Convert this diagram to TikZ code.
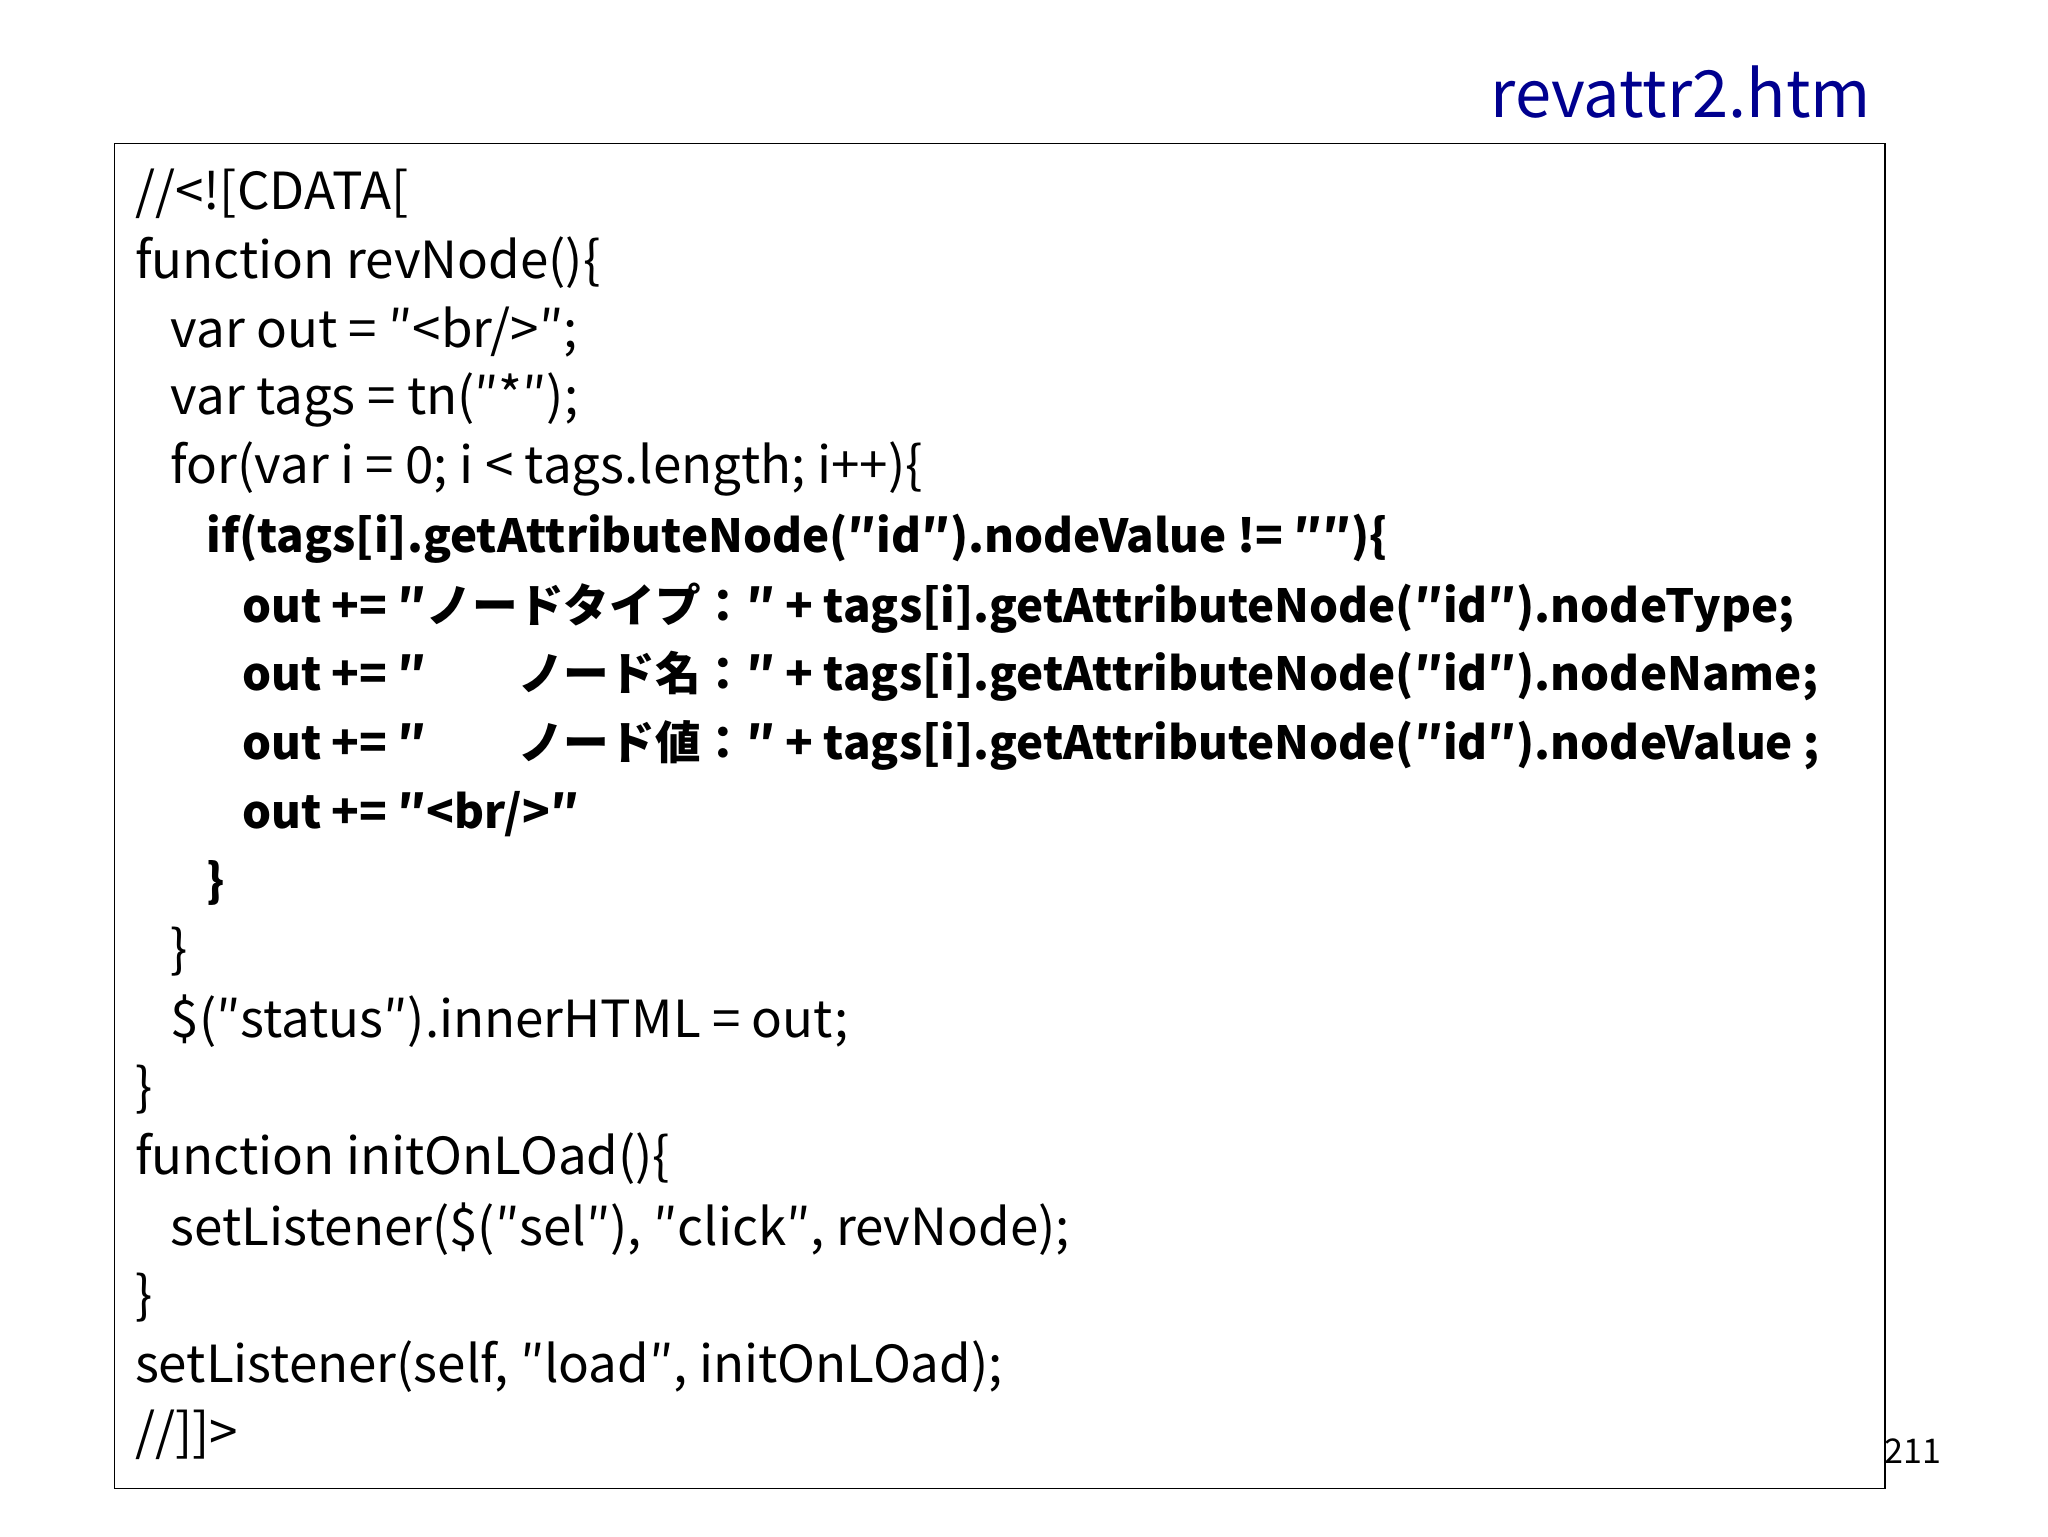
\documentclass[tikz,border=0pt]{standalone}
\usepackage{fontspec}
\setmainfont{Noto Sans CJK JP}
\begin{document}
\begin{tikzpicture}[x=0.03cm,y=-0.03cm,
  code/.style={anchor=west,inner sep=0pt,font=\fontsize{33}{33}\selectfont},
  bcode/.style={code,font=\fontsize{29.5}{29.5}\selectfont\bfseries}]
\useasboundingbox (0,0) rectangle (1550,1163);
\node[anchor=east,inner sep=0pt,text=blue!45!black!80!blue,font=\fontsize{42}{42}\selectfont] (title) at (1416,70) {revattr2.htm};
\node[draw=black,line width=1pt,minimum width=1340*0.03cm,minimum height=1018*0.03cm,anchor=north west,inner sep=0pt] (box) at (86,108) {};
\node[code] (l1) at (102,147) {//<![CDATA[};
\node[code] (l2) at (102,199) {function revNode()\{};
\node[code] (l3) at (129,251) {var out = ″<br/>″;};
\node[code] (l4) at (129,303) {var tags = tn(″*″);};
\node[code] (l5) at (129,355) {for(var i = 0; i < tags.length; i++)\{};
\node[bcode] (l6) at (156,408) {if(tags[i].getAttributeNode(″id″).nodeValue != ″″)\{};
\node[bcode] (l7) at (183,460) {out += ″ノードタイプ：″ + tags[i].getAttributeNode(″id″).nodeType;};
\node[bcode] (l8) at (183,512) {out += ″　　ノード名：″ + tags[i].getAttributeNode(″id″).nodeName;};
\node[bcode] (l9) at (183,564) {out += ″　　ノード値：″ + tags[i].getAttributeNode(″id″).nodeValue ;};
\node[bcode] (l10) at (183,616) {out += ″<br/>″};
\node[bcode] (l11) at (156,668) {\}};
\node[code] (l12) at (129,720) {\}};
\node[code] (l13) at (129,773) {\$(″status″).innerHTML = out;};
\node[code] (l14) at (102,825) {\}};
\node[code] (l15) at (102,877) {function initOnLOad()\{};
\node[code] (l16) at (129,930) {setListener(\$(″sel″), ″click″, revNode);};
\node[code] (l17) at (102,982) {\}};
\node[code] (l18) at (102,1034) {setListener(self, ″load″, initOnLOad);};
\node[code] (l19) at (102,1086) {//]]>};
\node[anchor=west,inner sep=0pt,font=\fontsize{22}{22}\selectfont] (pg) at (1426,1098) {211};
\end{tikzpicture}
\end{document}
